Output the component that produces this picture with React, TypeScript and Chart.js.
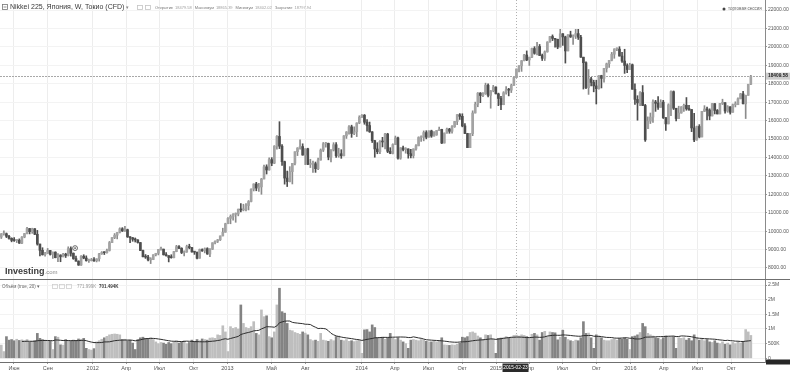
import React, { useEffect, useRef } from 'react';
import { Chart, registerables } from 'chart.js';

Chart.register(...registerables);

// ---- Data (weekly, first week starts 2011-04-25) ----
const START_DATE = '2011-04-25';

const openP = [
  9680, 9850, 9860, 9720, 9610, 9500, 9490, 9510, 9350, 9680,
  9870, 10140, 9970, 10130, 9830, 9300, 8960, 8720, 8800, 8950,
  8740, 8860, 8560, 8700, 8610, 8750, 8680, 9050, 8800, 8510,
  8370, 8160, 8640, 8540, 8400, 8400, 8450, 8390, 8500, 8770,
  8840, 8830, 8950, 9380, 9650, 9780, 9930, 10130, 10010, 10080,
  9690, 9640, 9560, 9520, 9380, 8950, 8610, 8590, 8440, 8460,
  8720, 8800, 9010, 9020, 8720, 8670, 8570, 8560, 8890, 9160,
  9070, 8840, 8870, 9160, 9110, 8870, 8860, 8530, 9000, 8930,
  9050, 8760, 9020, 9370, 9450, 9530, 9740, 9940, 10400, 10690,
  10800, 10910, 10930, 11190, 11150, 11170, 11390, 11610, 12280, 12560,
  12340, 12400, 12830, 13490, 13320, 13880, 13690, 14610, 15140, 14610,
  13770, 12880, 12690, 13230, 13680, 14310, 14510, 14590, 14130, 14470,
  13620, 13650, 13660, 13390, 13860, 14400, 14740, 14760, 14020, 14400,
  14690, 14090, 14200, 14090, 15170, 15380, 15660, 15300, 15400, 15870,
  16180, 16290, 15910, 15730, 15390, 14910, 14460, 14310, 14870, 14840,
  15270, 14330, 14220, 14700, 15060, 13960, 14520, 14430, 14460, 14200,
  14100, 14460, 14630, 15080, 15100, 15350, 15100, 15440, 15160, 15220,
  15460, 15520, 14780, 15320, 15540, 15420, 15670, 15950, 16320, 16230,
  15710, 15300, 14530, 15290, 16410, 16880, 17490, 17360, 17460, 17920,
  17370, 17620, 17820, 17450, 17200, 16860, 17510, 17670, 17650, 17910,
  18330, 18800, 18970, 19250, 19560, 19290, 19440, 19910, 19650, 20020,
  19530, 19380, 19730, 20260, 20560, 20460, 20410, 19990, 20710, 20540,
  19780, 20650, 20540, 20590, 20720, 20520, 19440, 19140, 17790, 18260,
  18070, 17880, 17730, 18440, 18290, 18830, 19080, 19270, 19600, 19880,
  19880, 19500, 19230, 18990, 18770, 19030, 17700, 17150, 16960, 17520,
  16820, 15560, 15970, 16190, 17010, 16940, 16720, 17000, 16160, 15820,
  16850, 17570, 16670, 16110, 16410, 16740, 16830, 16640, 16600, 15600,
  14950, 15680, 15110, 16500, 16630, 16570, 16250, 16920, 16550, 16360,
  16930, 16970, 16520, 16750, 16450, 16860, 16860, 17180, 17450, 16910,
  17370, 17970,
];

const highP = [
  9870, 10020, 9900, 9770, 9640, 9650, 9540, 9580, 9700, 9880,
  10210, 10150, 10160, 10140, 10040, 9300, 9100, 8850, 9060, 8960,
  8870, 8880, 8780, 8720, 8800, 8800, 9150, 9150, 8820, 8650,
  8390, 8680, 8720, 8660, 8480, 8520, 8560, 8500, 8790, 8890,
  8880, 9020, 9440, 9650, 9870, 9930, 10180, 10190, 10260, 10110,
  9710, 9660, 9630, 9540, 9390, 8970, 8730, 8690, 8560, 8720,
  8800, 9010, 9140, 9030, 8830, 8670, 8720, 8900, 9230, 9220,
  9100, 8930, 9240, 9290, 9120, 8880, 8860, 9030, 9040, 9090,
  9100, 9050, 9370, 9480, 9550, 9740, 10160, 10430, 10740, 10880,
  10950, 10990, 11200, 11500, 11460, 11500, 11660, 12290, 12570, 12650,
  12590, 12860, 13590, 13600, 13980, 13990, 14640, 15180, 15940, 14700,
  13800, 13260, 13500, 13680, 14310, 14530, 14950, 14740, 14470, 14500,
  13900, 13800, 13750, 13960, 14460, 14810, 14820, 14780, 14420, 14800,
  14800, 14500, 14420, 15180, 15400, 15730, 15750, 15660, 15880, 16260,
  16320, 16330, 16050, 15920, 15400, 14930, 14800, 14920, 15090, 15310,
  15310, 14530, 14740, 15160, 15100, 14530, 14620, 14530, 14470, 14440,
  14470, 14700, 15120, 15170, 15440, 15450, 15440, 15480, 15400, 15460,
  15650, 15530, 15330, 15590, 15580, 15730, 15960, 16330, 16380, 16370,
  15840, 15310, 15300, 16530, 17000, 17520, 17520, 17520, 18030, 17990,
  17630, 17910, 17830, 17490, 17320, 17570, 17850, 17750, 17980, 18340,
  18800, 18980, 19260, 19590, 19780, 19440, 19940, 20010, 20250, 20130,
  19610, 19780, 20280, 20570, 20650, 20460, 20420, 20950, 20720, 20580,
  20660, 20850, 20650, 20950, 20950, 20630, 19440, 19190, 18770, 18350,
  18190, 18190, 18440, 18460, 18830, 19120, 19270, 19700, 19900, 19950,
  20010, 19700, 19870, 19080, 19110, 19070, 17990, 17350, 17580, 17900,
  16880, 16200, 16410, 17120, 17100, 17300, 17130, 17100, 16160, 16910,
  17610, 17610, 16670, 16780, 16760, 16890, 17250, 16830, 16600, 16390,
  15700, 15780, 16500, 16810, 16730, 16640, 16930, 16920, 16600, 16930,
  17160, 16970, 16810, 16750, 16900, 17020, 17240, 17480, 17590, 17380,
  17970, 18450,
];

const lowP = [
  9600, 9780, 9650, 9560, 9420, 9440, 9380, 9330, 9320, 9640,
  9850, 9850, 9880, 9810, 9240, 8650, 8700, 8640, 8790, 8700,
  8520, 8550, 8350, 8340, 8600, 8570, 8650, 8640, 8470, 8370,
  8140, 8140, 8500, 8370, 8300, 8380, 8360, 8330, 8370, 8740,
  8730, 8810, 8920, 9370, 9590, 9580, 9900, 9980, 9990, 9660,
  9380, 9450, 9410, 9350, 8940, 8600, 8520, 8380, 8240, 8450,
  8660, 8710, 8970, 8700, 8640, 8330, 8530, 8550, 8880, 9050,
  8780, 8660, 8850, 9040, 8860, 8740, 8490, 8530, 8900, 8820,
  8740, 8620, 9000, 9300, 9380, 9490, 9740, 9940, 10400, 10400,
  10600, 10480, 10830, 11040, 11100, 11100, 11150, 11580, 12180, 12190,
  12150, 12000, 12830, 13100, 13310, 13550, 13660, 14450, 14480, 13560,
  12550, 12420, 12670, 12560, 13600, 14100, 14450, 14120, 13610, 13610,
  13450, 13190, 13190, 13340, 13850, 14320, 14560, 13870, 13750, 14350,
  14000, 14010, 13950, 14080, 15030, 15260, 15090, 15240, 15130, 15830,
  16170, 15800, 15420, 15360, 14810, 14010, 14200, 14200, 14570, 14460,
  14260, 14200, 14190, 14690, 13910, 13900, 14360, 14230, 13960, 13970,
  13970, 14390, 14630, 14870, 14900, 15010, 15100, 15090, 15150, 15200,
  15460, 14750, 14780, 15320, 15310, 15310, 15630, 15780, 16060, 15660,
  15290, 14530, 14530, 15180, 16410, 16750, 16970, 17300, 17420, 17290,
  16670, 17560, 17450, 16810, 16590, 16860, 17430, 17340, 17520, 17910,
  18330, 18640, 18670, 19240, 19250, 18990, 19420, 19600, 19560, 19530,
  19260, 19260, 19710, 20260, 20340, 19990, 19900, 19990, 20080, 19120,
  19780, 20510, 20130, 20450, 20400, 19430, 17710, 17730, 17420, 17880,
  17560, 16900, 17700, 17770, 18080, 18630, 18890, 19240, 19380, 19790,
  19500, 19160, 18560, 18600, 18770, 17700, 16880, 16020, 16810, 16810,
  14870, 15560, 15840, 15900, 16500, 16600, 16720, 16110, 15470, 15820,
  16270, 16600, 15980, 16110, 16400, 16500, 16560, 16550, 15400, 14860,
  14930, 15060, 15110, 16490, 16040, 16040, 16250, 16360, 16360, 16360,
  16870, 16400, 16450, 16350, 16450, 16740, 16860, 17180, 16900, 16110,
  17370, 17950,
];

const closeP = [
  9850, 9860, 9720, 9610, 9500, 9490, 9510, 9350, 9680, 9870,
  10140, 9970, 10130, 9830, 9300, 8960, 8720, 8800, 8950, 8740,
  8860, 8560, 8700, 8610, 8750, 8680, 9050, 8800, 8510, 8370,
  8160, 8640, 8540, 8400, 8400, 8450, 8390, 8500, 8770, 8840,
  8830, 8950, 9380, 9650, 9780, 9930, 10130, 10010, 10080, 9690,
  9640, 9560, 9520, 9380, 8950, 8610, 8590, 8440, 8460, 8720,
  8800, 9010, 9020, 8720, 8670, 8570, 8560, 8890, 9160, 9070,
  8840, 8870, 9160, 9110, 8870, 8860, 8530, 9000, 8930, 9050,
  8760, 9020, 9370, 9450, 9530, 9740, 9940, 10400, 10690, 10800,
  10910, 10930, 11190, 11150, 11170, 11390, 11610, 12280, 12560, 12340,
  12400, 12830, 13490, 13320, 13880, 13690, 14610, 15140, 14610, 13770,
  12880, 12690, 13230, 13680, 14310, 14510, 14590, 14130, 14470, 13620,
  13650, 13660, 13390, 13860, 14400, 14740, 14760, 14020, 14400, 14690,
  14090, 14200, 14090, 15170, 15380, 15660, 15300, 15400, 15870, 16180,
  16290, 15910, 15730, 15390, 14910, 14460, 14310, 14870, 14840, 15270,
  14330, 14220, 14700, 15060, 13960, 14520, 14430, 14460, 14200, 14100,
  14460, 14630, 15080, 15100, 15350, 15100, 15440, 15160, 15220, 15460,
  15520, 14780, 15320, 15540, 15420, 15670, 15950, 16320, 16230, 15710,
  15300, 14530, 15290, 16410, 16880, 17490, 17360, 17460, 17920, 17370,
  17620, 17820, 17450, 17200, 16860, 17510, 17670, 17650, 17910, 18330,
  18800, 18970, 19250, 19560, 19290, 19440, 19910, 19650, 20020, 19530,
  19380, 19730, 20260, 20560, 20460, 20410, 19990, 20710, 20540, 19780,
  20650, 20540, 20590, 20720, 20520, 19440, 19140, 17790, 18260, 18070,
  17880, 17730, 18440, 18290, 18830, 19080, 19270, 19600, 19880, 19880,
  19500, 19230, 18990, 18770, 19030, 17700, 17150, 16960, 17520, 16820,
  14950, 15970, 16190, 17010, 16940, 16720, 17000, 16160, 15820, 16850,
  17570, 16670, 16110, 16410, 16740, 16830, 16640, 16600, 15600, 14950,
  15680, 15110, 16500, 16630, 16570, 16250, 16920, 16550, 16360, 16930,
  16970, 16520, 16750, 16450, 16860, 16860, 17180, 17450, 16910, 17370,
  17970, 18410,
];

// weekly volume, thousands
const volumeK = [
  450, 230, 740, 620, 640, 600, 650, 610, 630, 600,
  640, 560, 580, 600, 850, 680, 640, 620, 600, 580,
  300, 740, 720, 460, 450, 640, 610, 580, 620, 600,
  660, 650, 680, 340, 300, 280, 330, 560, 600, 650,
  700, 750, 800, 820, 830, 820, 800, 640, 650, 600,
  620, 520, 300, 640, 700, 720, 680, 650, 700, 640,
  560, 500, 540, 520, 480, 540, 500, 560, 600, 520,
  560, 600, 500, 540, 620, 580, 640, 600, 660, 640,
  620, 690, 700, 680, 800, 780, 1110, 900, 230, 1080,
  1020, 1050, 1000, 1820, 1190, 1050, 1020, 1080, 1250, 850,
  800, 1650, 1420, 1450, 740, 700, 900, 1820, 2390, 1590,
  1540, 1190, 960, 940, 880, 850, 820, 900, 860, 800,
  640, 600, 620, 580, 850, 620, 600, 580, 640, 600,
  740, 760, 620, 600, 640, 580, 600, 570, 600, 620,
  170, 970, 980, 900, 1140, 1050, 700, 680, 720, 650,
  700, 850, 680, 640, 700, 620, 560, 500, 340, 620,
  640, 620, 600, 640, 620, 580, 560, 560, 580, 560,
  600, 700, 460, 450, 440, 460, 450, 480, 520, 720,
  700, 740, 880, 900, 860, 760, 700, 640, 800, 780,
  800, 650, 170, 680, 690, 700, 740, 700, 720, 780,
  790, 760, 800, 780, 740, 700, 820, 850, 800, 620,
  880, 920, 750, 900, 880, 870, 630, 720, 960, 720,
  640, 600, 580, 620, 600, 700, 1250, 850, 860, 700,
  340, 800, 760, 700, 620, 600, 600, 640, 660, 620,
  680, 650, 700, 650, 300, 740, 760, 800, 880, 1190,
  1080, 850, 800, 760, 700, 680, 640, 700, 760, 740,
  720, 740, 340, 700, 680, 700, 620, 680, 600, 800,
  700, 620, 680, 600, 640, 560, 540, 600, 520, 500,
  560, 480, 520, 460, 540, 500, 560, 520, 580, 980,
  900, 780,
];

const priceTicks = [8000, 9000, 10000, 11000, 12000, 13000, 14000, 15000, 16000, 17000, 18000, 19000, 20000, 21000, 22000];
const volumeTicks = [0, 500000, 1000000, 1500000, 2000000, 2500000];
const volumeTickLabels = ['0', '500K', '1M', '1.5M', '2M', '2.5M'];
const xTickDates = ['2011-06-01', '2011-09-01', '2012-01-01', '2012-04-01', '2012-07-01', '2012-10-01', '2013-01-01', '2013-05-01', '2013-08-01', '2014-01-01', '2014-04-01', '2014-07-01', '2014-10-01', '2015-01-01', '2015-04-01', '2015-07-01', '2015-10-01', '2016-01-01', '2016-04-01', '2016-07-01', '2016-10-01'];
const xTickTexts = ['Июн', 'Сен', '2012', 'Апр', 'Июл', 'Окт', '2013', 'Май', 'Авг', '2014', 'Апр', 'Июл', 'Окт', '2015', 'Апр', 'Июл', 'Окт', '2016', 'Апр', 'Июл', 'Окт'];

const LAST_PRICE = 18409.58;
const CROSS_DATE = '2015-02-23';
const MARKER_DATE = '2011-11-14';
const MARKER_PRICE = 9080;
const PAD_WEEKS = 5;
const MA_PERIOD = 20;

const TITLE = 'Nikkei 225, Япония, W, Токио (CFD)';
const OHLC_LABELS = ['Открытие', 'Максимум', 'Минимум', 'Закрытие'];
const OHLC_VALUES = ['18479.58', '18865.39', '18402.02', '18797.94'];
const VOL_TITLE = 'Объём (true, 20)';
const VOL_VALUES = ['771.999K', '701.494K'];

// ---- Styling ----
const FONT = '"Liberation Sans", Arial, sans-serif';
const UP = '#a3a3a3';
const DOWN = '#4e4e4e';
const VOL_UP = '#bebebe';
const VOL_DOWN = '#838383';

const dayMs = 86400000;
const dateToIndex = (d: string) =>
  ((Date.parse(d + 'T00:00:00Z') - Date.parse(START_DATE + 'T00:00:00Z')) / dayMs - 2.5) / 7;

export default function App() {
  const ref = useRef<HTMLCanvasElement | null>(null);

  useEffect(() => {
    const canvas = ref.current;
    if (!canvas) return;
    const n = closeP.length;
    const isUp = closeP.map((c, i) => c >= openP[i]);
    const wickData = closeP.map((_, i) => ({ x: i, y: [lowP[i], highP[i]] }));
    const bodyData = closeP.map((c, i) => ({ x: i, y: [openP[i], c] }));
    const volData = volumeK.map((v, i) => ({ x: i, y: v * 1000 }));
    const maData = volumeK.map((_, i) => {
      if (i < 8) return { x: i, y: null };
      const s = Math.max(0, i - MA_PERIOD + 1);
      const w = volumeK.slice(s, i + 1);
      return { x: i, y: (w.reduce((a, b) => a + b, 0) / w.length) * 1000 };
    });
    const xTickPos = xTickDates.map(dateToIndex);

    const overlay = {
      id: 'overlay',
      beforeDraw(chart: any) {
        const c = chart.ctx;
        c.save();
        c.fillStyle = '#ffffff';
        c.fillRect(0, 0, chart.width, chart.height);
        c.restore();
      },
      beforeDatasetsDraw(chart: any) {
        const c = chart.ctx;
        const ca = chart.chartArea;
        const xs = chart.scales.x;
        const ys = chart.scales.y;
        c.save();
        const py = Math.round(ys.getPixelForValue(LAST_PRICE)) + 0.5;
        c.strokeStyle = '#a8a8a8';
        c.lineWidth = 1;
        c.setLineDash([2, 1]);
        c.beginPath();
        c.moveTo(ca.left, py);
        c.lineTo(ca.right, py);
        c.stroke();
        const cx = Math.round(xs.getPixelForValue(dateToIndex(CROSS_DATE))) + 0.5;
        c.strokeStyle = '#b0b0b0';
        c.setLineDash([1, 2]);
        c.beginPath();
        c.moveTo(cx, ca.top);
        c.lineTo(cx, ca.bottom);
        c.stroke();
        c.restore();
      },
      afterDraw(chart: any) {
        const c = chart.ctx;
        const ca = chart.chartArea;
        const xs = chart.scales.x;
        const ys = chart.scales.y;
        const yv = chart.scales.yv;
        c.save();
        c.textBaseline = 'middle';
        const dy = Math.round(yv.top) + 0.5;
        c.strokeStyle = '#6f6f6f';
        c.lineWidth = 1.2;
        c.beginPath();
        c.moveTo(0, dy);
        c.lineTo(chart.width, dy);
        c.stroke();

        // title
        c.lineWidth = 0.8;
        c.strokeStyle = '#777';
        c.strokeRect(2.5, 4.5, 5, 5);
        c.beginPath();
        c.moveTo(3.5, 7);
        c.lineTo(6.5, 7);
        c.stroke();
        c.fillStyle = '#3a3a3a';
        c.font = '7px ' + FONT;
        c.textAlign = 'left';
        c.fillText(TITLE, 10, 7.5);
        const tw = c.measureText(TITLE).width;
        c.fillStyle = '#888';
        c.font = '5px ' + FONT;
        c.fillText('▾', 12 + tw, 7.5);
        c.strokeStyle = '#c4c4c4';
        c.strokeRect(137.5, 5.5, 5, 4);
        c.strokeRect(145.5, 5.5, 5, 4);
        // OHLC readout, laid out one piece after another
        c.font = '4px ' + FONT;
        let cur = 155;
        OHLC_LABELS.forEach((lab, k) => {
          c.fillStyle = '#7a7a7a';
          c.fillText(lab, cur, 7.5);
          cur += c.measureText(lab).width + 2;
          c.fillStyle = '#a0a0a0';
          c.fillText(OHLC_VALUES[k], cur, 7.5);
          cur += c.measureText(OHLC_VALUES[k]).width + 3;
        });
        // session legend
        c.fillStyle = '#444';
        c.beginPath();
        c.arc(724, 9, 1.5, 0, Math.PI * 2);
        c.fill();
        c.fillStyle = '#666';
        c.font = '4.5px ' + FONT;
        c.fillText('торговая сессия', 728, 9);

        // Investing.com logo
        c.textBaseline = 'alphabetic';
        c.fillStyle = '#3a3a3a';
        c.font = 'bold 9px ' + FONT;
        c.fillText('Investing', 5, 274);
        const iw = c.measureText('Investing').width;
        c.fillStyle = '#8a8a8a';
        c.font = '6px ' + FONT;
        c.fillText('.com', 5 + iw, 274);
        c.textBaseline = 'middle';

        // volume header
        c.fillStyle = '#666';
        c.font = '4.5px ' + FONT;
        c.fillText(VOL_TITLE + ' ▾', 2, 286.5);
        c.strokeStyle = '#cfcfcf';
        c.lineWidth = 0.8;
        c.strokeRect(52.5, 284.5, 5, 4);
        c.strokeRect(59.5, 284.5, 5, 4);
        c.strokeRect(66.5, 284.5, 5, 4);
        c.fillStyle = '#9a9a9a';
        c.fillText(VOL_VALUES[0], 77, 286.5);
        c.fillStyle = '#3a3a3a';
        c.font = 'bold 4.5px ' + FONT;
        c.fillText(VOL_VALUES[1], 99, 286.5);

        // event marker
        const mx = xs.getPixelForValue(dateToIndex(MARKER_DATE));
        const my = ys.getPixelForValue(MARKER_PRICE);
        c.fillStyle = '#ffffff';
        c.strokeStyle = '#555';
        c.lineWidth = 0.9;
        c.beginPath();
        c.arc(mx, my, 2.4, 0, Math.PI * 2);
        c.fill();
        c.stroke();
        c.fillStyle = '#555';
        c.beginPath();
        c.arc(mx, my, 0.9, 0, Math.PI * 2);
        c.fill();

        // last price label on axis
        const py = ys.getPixelForValue(LAST_PRICE);
        c.fillStyle = '#cdcdcd';
        c.fillRect(ca.right + 1, py - 3.5, 24, 7);
        c.fillStyle = '#222';
        c.font = 'bold 4.8px ' + FONT;
        c.textAlign = 'left';
        c.fillText(LAST_PRICE.toFixed(2), ca.right + 3, py);

        // crosshair date label
        const cx = xs.getPixelForValue(dateToIndex(CROSS_DATE));
        c.fillStyle = '#2a2a2a';
        c.fillRect(cx - 13, ca.bottom + 1.5, 26, 8.5);
        c.fillStyle = '#ffffff';
        c.font = '4.8px ' + FONT;
        c.textAlign = 'center';
        c.fillText(CROSS_DATE, cx, ca.bottom + 6);

        // crosshair value box on volume axis
        c.fillStyle = '#262626';
        c.fillRect(ca.right + 1, ca.bottom - 2.5, 24, 5);
        c.restore();
      },
    };

    const chart = new Chart(canvas, {
      type: 'bar',
      data: {
        datasets: [
          {
            type: 'bar',
            data: bodyData as any,
            yAxisID: 'y',
            backgroundColor: isUp.map((u) => (u ? UP : DOWN)),
            barThickness: 2,
            minBarLength: 1,
            grouped: false,
            borderWidth: 0,
            order: 0,
          } as any,
          {
            type: 'bar',
            data: wickData as any,
            yAxisID: 'y',
            backgroundColor: isUp.map((u) => (u ? '#8c8c8c' : '#4e4e4e')),
            barThickness: 1,
            grouped: false,
            borderWidth: 0,
            order: 1,
          } as any,
          {
            type: 'line',
            data: maData as any,
            yAxisID: 'yv',
            borderColor: '#2e2e2e',
            borderWidth: 1,
            pointRadius: 0,
            tension: 0,
            spanGaps: false,
            order: 2,
          } as any,
          {
            type: 'bar',
            data: volData as any,
            yAxisID: 'yv',
            backgroundColor: isUp.map((u) => (u ? VOL_UP : VOL_DOWN)),
            barThickness: 2,
            grouped: false,
            borderWidth: 0,
            order: 3,
          } as any,
        ],
      },
      options: {
        responsive: false,
        animation: false,
        devicePixelRatio: 1,
        events: [],
        layout: { padding: 0 },
        plugins: { legend: { display: false }, tooltip: { enabled: false } },
        scales: {
          x: {
            type: 'linear',
            offset: false,
            min: -0.5,
            max: n - 1 + PAD_WEEKS + 0.5,
            position: 'bottom',
            afterBuildTicks: (s: any) => {
              s.ticks = xTickPos.map((v) => ({ value: v }));
            },
            afterFit: (s: any) => {
              s.height = 13;
              s.paddingLeft = 0;
              s.paddingRight = 0;
            },
            ticks: {
              autoSkip: false,
              maxRotation: 0,
              padding: 1,
              color: '#555',
              font: { size: 5.5, family: FONT },
              callback: (_v: any, i: number) => xTickTexts[i],
            },
            grid: { offset: false, color: '#ededed', tickLength: 2, tickColor: '#999' },
            border: { color: '#6f6f6f' },
          },
          y: {
            type: 'linear',
            position: 'right',
            stack: 'panes',
            stackWeight: 279,
            min: 7403,
            max: 22543,
            afterBuildTicks: (s: any) => {
              s.ticks = priceTicks.map((v) => ({ value: v }));
            },
            afterFit: (s: any) => {
              s.width = 25;
              s.paddingTop = 0;
              s.paddingBottom = 0;
            },
            ticks: {
              autoSkip: false,
              padding: 1,
              color: '#555',
              font: { size: 5, family: FONT },
              callback: (v: any) => Number(v).toFixed(2),
            },
            grid: { color: '#f3f3f3', tickLength: 2, tickColor: '#999' },
            border: { color: '#8a8a8a' },
          },
          yv: {
            type: 'linear',
            position: 'right',
            stack: 'panes',
            stackWeight: 83,
            min: -126000,
            max: 2705000,
            afterBuildTicks: (s: any) => {
              s.ticks = volumeTicks.map((v) => ({ value: v }));
            },
            afterFit: (s: any) => {
              s.width = 25;
              s.paddingTop = 0;
              s.paddingBottom = 0;
            },
            ticks: {
              autoSkip: false,
              padding: 1,
              color: '#555',
              font: { size: 5, family: FONT },
              callback: (_v: any, i: number) => volumeTickLabels[i],
            },
            grid: { color: '#f3f3f3', tickLength: 2, tickColor: '#999' },
            border: { color: '#8a8a8a' },
          },
        },
      } as any,
      plugins: [overlay],
    });

    return () => {
      chart.destroy();
    };
  }, []);

  return (
    <div style={{ position: 'fixed', left: 0, top: 0, width: 790, height: 375, background: '#fff' }}>
      <canvas ref={ref} width={790} height={375} style={{ display: 'block', width: 790, height: 375 }} />
    </div>
  );
}
